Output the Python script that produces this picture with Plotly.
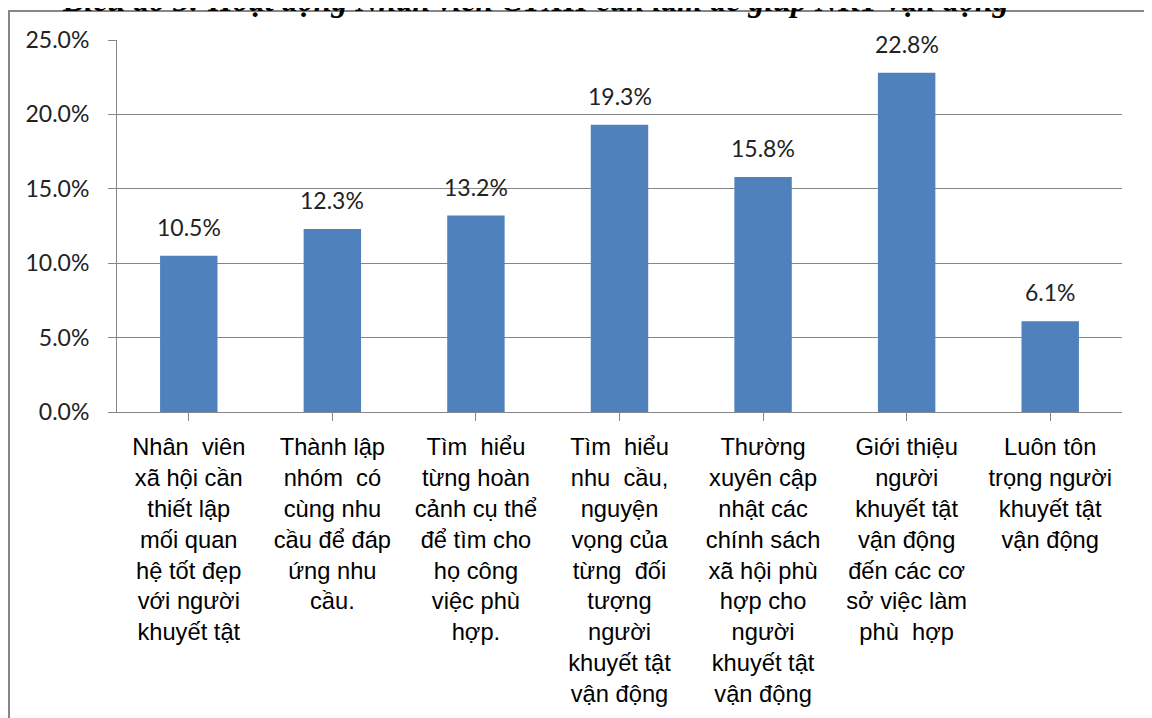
import plotly.graph_objects as go

categories = [
    "Nhân  viên<br>xã hội cần<br>thiết lập<br>mối quan<br>hệ tốt đẹp<br>với người<br>khuyết tật",
    "Thành lập<br>nhóm  có<br>cùng nhu<br>cầu để đáp<br>ứng nhu<br>cầu.",
    "Tìm  hiểu<br>từng hoàn<br>cảnh cụ thể<br>để tìm cho<br>họ công<br>việc phù<br>hợp.",
    "Tìm  hiểu<br>nhu  cầu,<br>nguyện<br>vọng của<br>từng  đối<br>tượng<br>người<br>khuyết tật<br>vận động",
    "Thường<br>xuyên cập<br>nhật các<br>chính sách<br>xã hội phù<br>hợp cho<br>người<br>khuyết tật<br>vận động",
    "Giới thiệu<br>người<br>khuyết tật<br>vận động<br>đến các cơ<br>sở việc làm<br>phù  hợp",
    "Luôn tôn<br>trọng người<br>khuyết tật<br>vận động",
]
values = [0.105, 0.123, 0.132, 0.193, 0.158, 0.228, 0.061]
y_ticks = [0.0, 0.05, 0.10, 0.15, 0.20, 0.25]
title_text = "Biểu đồ 3: Hoạt động Nhân viên CTXH cần làm để giúp NKT vận động"

W, H = 1152, 718
OFF = 8  # page body margin
# target plot area in page pixels: x 117..1122, y 40..412
L = 117 - OFF
T = 40 - OFF
R = W - (1122 - OFF)
B = H - (412 - OFF)
pw, ph = W - L - R, H - T - B

def px_x(p):
    return (p - OFF - L) / pw

def px_y(p):
    return (H - B - (p - OFF)) / ph

fig = go.Figure()
fig.add_trace(go.Bar(
    x=list(range(len(categories))), y=values,
    marker=dict(color="#4F81BD", line=dict(width=0)),
    width=0.4,
))

for i, v in enumerate(values):
    fig.add_annotation(
        x=i, y=v, xref="x", yref="y", text=f"{v*100:.1f}%",
        showarrow=False, yanchor="bottom", yshift=13,
        font=dict(family="Lato", size=23, color="#222222"),
    )

fig.add_annotation(
    x=px_x(535), y=px_y(0), xref="paper", yref="paper",
    text=f"<b><i>{title_text}</i></b>", showarrow=False,
    xanchor="center", yanchor="middle",
    font=dict(family="Liberation Serif", size=32, color="#000000"),
)

fig.add_shape(
    type="rect", xref="paper", yref="paper",
    x0=px_x(9), x1=px_x(1150), y0=px_y(760), y1=px_y(11),
    line=dict(color="#868686", width=2), fillcolor="rgba(0,0,0,0)", layer="above",
)

fig.update_layout(
    width=W, height=H,
    margin=dict(l=L, r=R, t=T, b=B),
    paper_bgcolor="white", plot_bgcolor="white",
    showlegend=False,
    bargap=0.6,
)
fig.update_xaxes(
    tickmode="array", tickvals=list(range(len(categories))), ticktext=categories,
    range=[-0.5, len(categories) - 0.5],
    showline=True, linecolor="#868686", linewidth=1,
    ticks="outside", tickson="boundaries", ticklen=8, tickcolor="#868686",
    showgrid=False, zeroline=False,
    tickfont=dict(family="Liberation Sans", size=23.7, color="#000000"),
    ticklabelstandoff=6,
)
fig.update_yaxes(
    range=[0, 0.25], tickvals=y_ticks, tickformat=".1%",
    showline=True, linecolor="#868686", linewidth=1,
    ticks="outside", ticklen=8, tickcolor="#868686",
    showgrid=True, gridcolor="#868686", gridwidth=1, zeroline=False,
    tickfont=dict(family="Lato", size=23, color="#222222"),
    ticklabelstandoff=14,
)

fig.write_html("out.html")
